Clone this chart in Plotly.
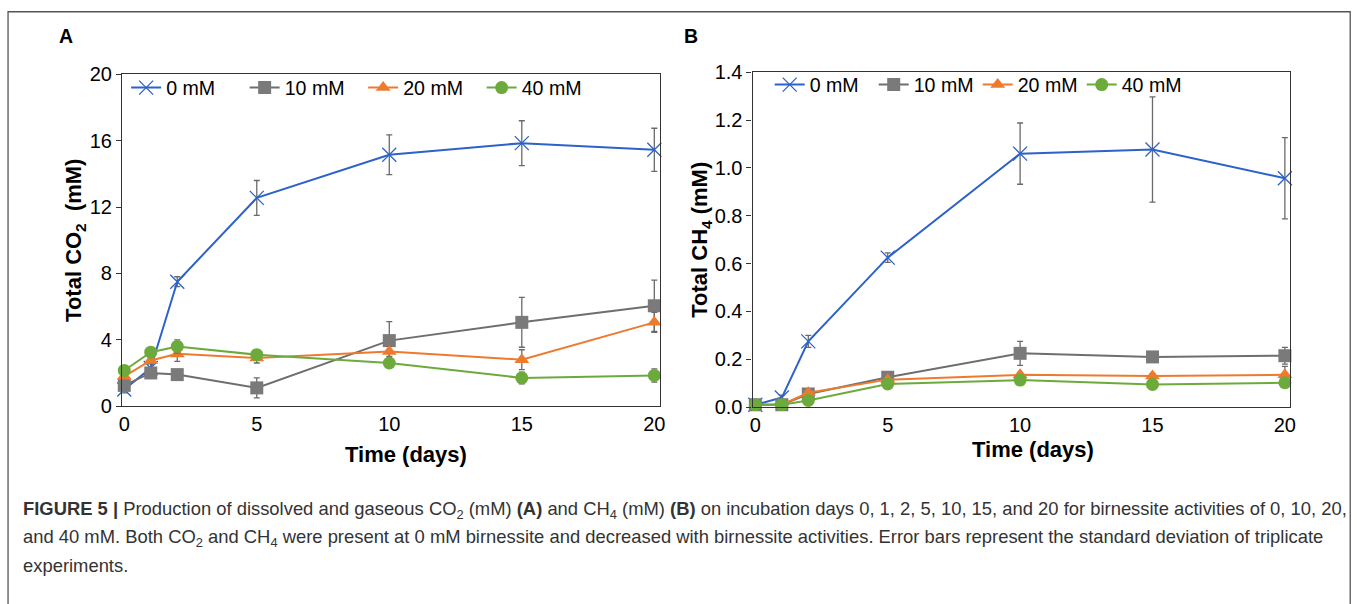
import plotly.graph_objects as go

# ---------------- data ----------------
days = [0, 1, 2, 5, 10, 15, 20]
series_names = ["0 mM", "10 mM", "20 mM", "40 mM"]

co2_0 = [1.0, 2.3, 7.5, 12.55, 15.15, 15.85, 15.45]
co2_0_sd = [0.2, 0.3, 0.3, 1.05, 1.2, 1.35, 1.3]
co2_10 = [1.25, 2.0, 1.9, 1.1, 3.95, 5.05, 6.05]
co2_10_sd = [0.2, 0.2, 0.2, 0.6, 1.15, 1.5, 1.55]
co2_20 = [1.8, 2.75, 3.15, 2.9, 3.3, 2.8, 5.05]
co2_20_sd = [0.15, 0.2, 0.45, 0.3, 0.3, 0.6, 0.6]
co2_40 = [2.15, 3.25, 3.6, 3.1, 2.6, 1.7, 1.85]
co2_40_sd = [0.1, 0.2, 0.4, 0.2, 0.2, 0.35, 0.4]

ch4_0 = [0.01, 0.04, 0.275, 0.625, 1.06, 1.077, 0.957]
ch4_0_sd = [0.005, 0.01, 0.025, 0.02, 0.128, 0.22, 0.17]
ch4_10 = [0.01, 0.01, 0.055, 0.125, 0.225, 0.21, 0.215]
ch4_10_sd = [0.003, 0.003, 0.01, 0.01, 0.05, 0.02, 0.035]
ch4_20 = [0.01, 0.01, 0.06, 0.115, 0.135, 0.13, 0.135]
ch4_20_sd = [0.003, 0.003, 0.008, 0.01, 0.01, 0.01, 0.035]
ch4_40 = [0.01, 0.01, 0.028, 0.097, 0.113, 0.095, 0.102]
ch4_40_sd = [0.003, 0.003, 0.005, 0.008, 0.008, 0.008, 0.008]

co2_tickvals = [0, 4, 8, 12, 16, 20]
ch4_tickvals = [0.0, 0.2, 0.4, 0.6, 0.8, 1.0, 1.2, 1.4]
day_tickvals = [0, 5, 10, 15, 20]

x_title = "<b>Time (days)</b>"
caption_lines = [
    "<b>FIGURE 5 |</b> Production of dissolved and gaseous CO<sub>2</sub> (mM) <b>(A)</b> and CH<sub>4</sub> (mM) "
    "<b>(B)</b> on incubation days 0, 1, 2, 5, 10, 15, and 20 for birnessite activities of 0, 10, 20,",
    "and 40 mM. Both CO<sub>2</sub> and CH<sub>4</sub> were present at 0 mM birnessite and decreased with "
    "birnessite activities. Error bars represent the standard deviation of triplicate",
    "experiments.",
]

# ---------------- layout helpers ----------------
FW, FH = 1357, 604
# measured mapping between figure pixels and the photographed picture
AX, BX = 0.9925, 2.96
AY, BY = 0.967, 9.46
FONT = "Liberation Sans, Arial, sans-serif"
colors = ["#2C62C9", "#7A7A7A", "#EE7A2E", "#6DAA3C"]
line_colors = ["#2C62C9", "#6E6E6E", "#EE7A2E", "#6DAA3C"]
symbols = ["x-thin", "square", "triangle-up", "circle"]
sizes = [14, 13, 13, 13]
ERR = "#6A6A6A"


def fx(p):
    return ((p - BX) / AX) / FW


def fy(p):
    return 1 - ((p - BY) / AY) / FH


fig = go.Figure()

panels = [
    ([co2_0, co2_10, co2_20, co2_40], [co2_0_sd, co2_10_sd, co2_20_sd, co2_40_sd], "x", "y", "legend"),
    ([ch4_0, ch4_10, ch4_20, ch4_40], [ch4_0_sd, ch4_10_sd, ch4_20_sd, ch4_40_sd], "x2", "y2", "legend2"),
]

for vals, sds, xa, ya, leg in panels:
    for i in range(4):
        marker = dict(symbol=symbols[i], size=sizes[i], color=colors[i])
        if symbols[i] == "x-thin":
            marker["line"] = dict(color=colors[i], width=1.3)
        else:
            marker["line"] = dict(width=0)
        fig.add_trace(go.Scatter(
            x=days, y=vals[i], name=series_names[i], mode="lines+markers",
            line=dict(color=line_colors[i], width=2),
            marker=marker,
            error_y=dict(type="data", array=sds[i], visible=True, color=ERR, thickness=1.3, width=3),
            xaxis=xa, yaxis=ya, legend=leg, cliponaxis=False,
        ))

TICKF = dict(family=FONT, size=20, color="black")
TITLEF = dict(family=FONT, size=22, color="black")
axis_common = dict(showline=True, mirror=True, linecolor="#333333", linewidth=1.4,
                   showgrid=False, zeroline=False, tickfont=TICKF)

fig.update_layout(
    width=FW, height=FH, autosize=False,
    margin=dict(l=0, r=0, t=0, b=0),
    paper_bgcolor="white", plot_bgcolor="white",
    font=dict(family=FONT, color="black"),
    xaxis=dict(domain=[fx(122), fx(659)], range=[-0.08, 20.2], tickvals=day_tickvals,
               ticks="", anchor="y", **axis_common),
    yaxis=dict(domain=[fy(406), fy(73)], range=[0, 20], tickvals=co2_tickvals,
               ticks="outside", ticklen=5, tickcolor="#333333", anchor="x",
               title=dict(text="<b>Total CO<sub>2</sub>  (mM)</b>", font=TITLEF, standoff=1),
               **axis_common),
    xaxis2=dict(domain=[fx(752), fx(1289)], range=[-0.1, 20.2], tickvals=day_tickvals,
                ticks="", anchor="y2", **axis_common),
    yaxis2=dict(domain=[fy(407), fy(71)], range=[0, 1.4], tickvals=ch4_tickvals, tickformat=".1f",
                ticks="outside", ticklen=5, tickcolor="#333333", anchor="x2",
                title=dict(text="<b>Total CH<sub>4</sub> (mM)</b>", font=TITLEF, standoff=0),
                **axis_common),
    legend=dict(orientation="h", x=fx(126), xanchor="left", y=fy(86.6), yanchor="middle",
                bgcolor="rgba(0,0,0,0)", font=dict(family=FONT, size=19.6, color="black"),
                entrywidth=73.5, entrywidthmode="pixels", itemwidth=30, traceorder="normal"),
    legend2=dict(orientation="h", x=fx(769), xanchor="left", y=fy(83.6), yanchor="middle",
                 bgcolor="rgba(0,0,0,0)", font=dict(family=FONT, size=19.6, color="black"),
                 entrywidth=59, entrywidthmode="pixels", itemwidth=30, traceorder="normal"),
    showlegend=True,
)

# x-axis titles (placed as in the reference, slightly right of centre)
for px, py in [(406, 455), (1032, 450)]:
    fig.add_annotation(text=x_title, xref="paper", yref="paper", x=fx(px), y=fy(py),
                       xanchor="center", yanchor="middle", showarrow=False, font=TITLEF)

# outer frame
fig.add_shape(type="rect", xref="paper", yref="paper",
              x0=max(fx(8), 0.8 / FW), x1=min(fx(1354), 1 - 0.8 / FW),
              y0=-0.05, y1=min(fy(8), 1 - 0.8 / FH),
              line=dict(color="#555555", width=1.3), fillcolor="rgba(0,0,0,0)", layer="below")

# panel letters
for txt, px in [("A", 66), ("B", 690)]:
    fig.add_annotation(text=f"<b>{txt}</b>", xref="paper", yref="paper", x=fx(px), y=fy(35),
                       xanchor="center", yanchor="middle", showarrow=False,
                       font=dict(family=FONT, size=19.5, color="black"))

# caption
for k, line in enumerate(caption_lines):
    fig.add_annotation(text=line, xref="paper", yref="paper", x=fx(21), y=fy(510 + 28 * k),
                       xanchor="left", yanchor="middle", showarrow=False, align="left",
                       font=dict(family=FONT, size=18.4, color="#333333"))

fig.write_html("out.html", config={"displayModeBar": False},
               post_script="document.body.style.margin='0px';")
